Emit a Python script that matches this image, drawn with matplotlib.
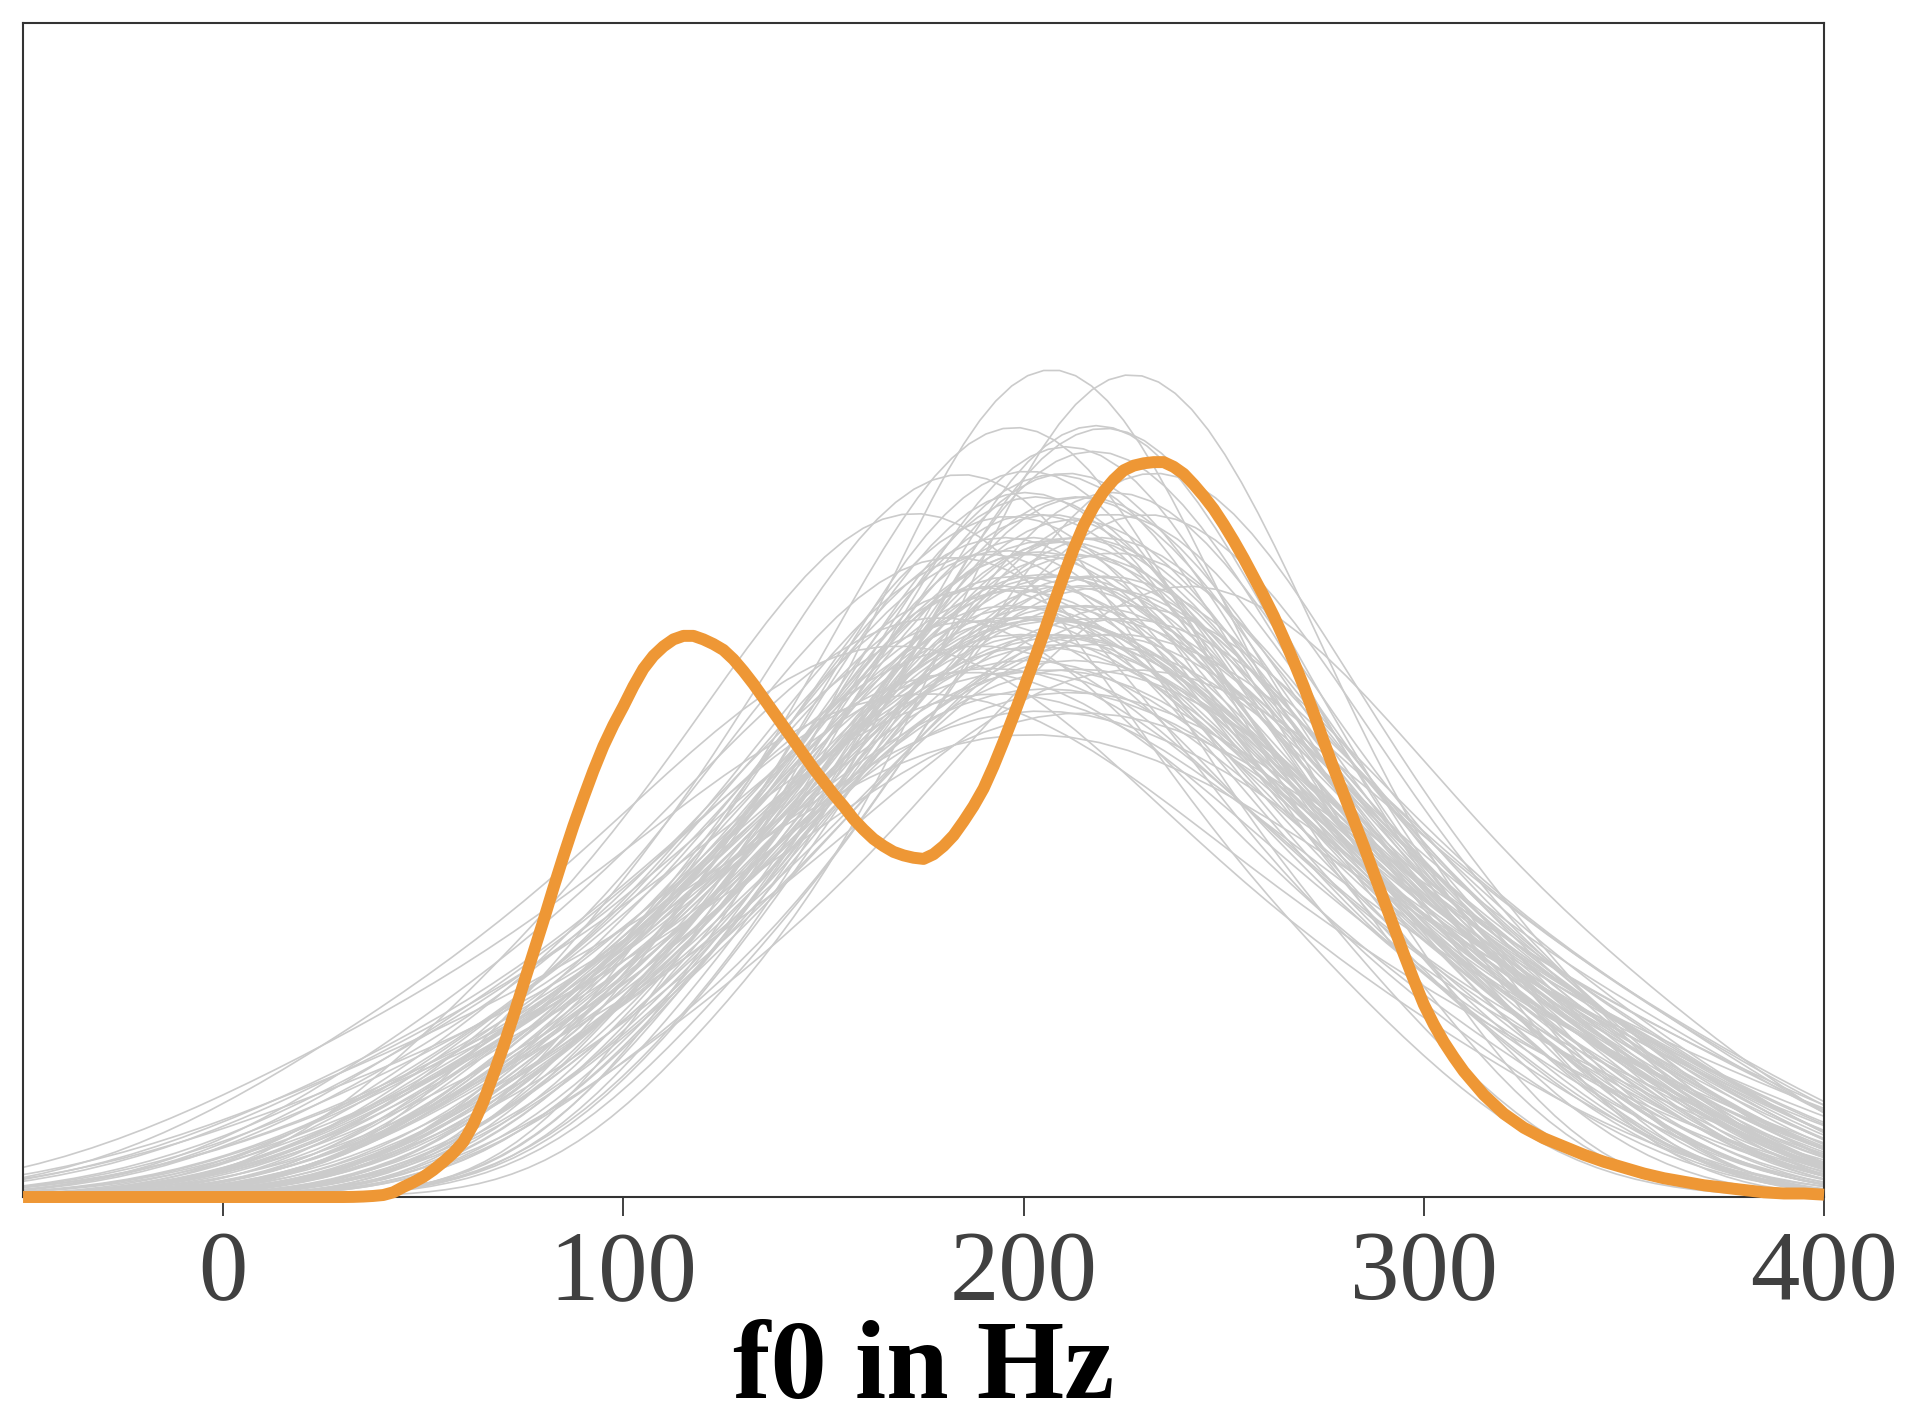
import numpy as np
import matplotlib
matplotlib.use("Agg")
import matplotlib.pyplot as plt
import seaborn as sns

# f0 samples (Hz) of the other speakers, one list per grey curve
gray_speakers = [
    [66, 121, 144, 167, 178, 193, 206, 214, 233, 249, 279, 320],
    [96, 145, 164, 185, 195, 209, 216, 231, 240, 262, 280, 331],
    [48, 103, 129, 155, 171, 183, 199, 214, 228, 254, 279, 341],
    [120, 153, 178, 190, 204, 212, 224, 231, 246, 257, 282, 312],
    [72, 128, 151, 175, 187, 203, 212, 229, 241, 266, 288, 344],
    [60, 111, 131, 153, 164, 178, 190, 198, 216, 230, 259, 305],
    [131, 170, 190, 201, 215, 224, 229, 242, 250, 268, 283, 324],
    [40, 107, 136, 165, 180, 198, 209, 228, 244, 273, 299, 358],
    [78, 118, 147, 161, 180, 188, 202, 210, 228, 242, 271, 310],
    [85, 139, 160, 184, 195, 211, 219, 235, 246, 270, 290, 337],
    [63, 99, 128, 141, 158, 165, 180, 187, 204, 217, 245, 281],
    [71, 118, 152, 169, 190, 200, 216, 226, 247, 263, 297, 343],
    [90, 137, 154, 174, 183, 197, 207, 214, 230, 241, 268, 303],
    [106, 146, 175, 189, 208, 215, 230, 238, 256, 270, 300, 339],
    [52, 108, 130, 156, 167, 184, 192, 209, 221, 246, 268, 324],
    [86, 125, 155, 169, 188, 196, 210, 218, 236, 250, 279, 318],
    [55, 119, 146, 173, 188, 207, 216, 235, 250, 278, 303, 360],
    [69, 111, 143, 158, 177, 186, 201, 209, 228, 243, 274, 315],
    [115, 163, 182, 203, 213, 227, 234, 249, 258, 279, 298, 346],
    [76, 120, 153, 168, 189, 199, 214, 223, 243, 259, 291, 335],
    [50, 111, 137, 163, 176, 195, 204, 222, 236, 262, 287, 349],
    [88, 132, 165, 181, 200, 210, 226, 235, 255, 271, 303, 347],
    [81, 115, 142, 154, 170, 178, 191, 198, 214, 226, 253, 287],
    [98, 144, 161, 181, 191, 204, 211, 225, 233, 253, 271, 316],
    [61, 119, 143, 168, 182, 199, 207, 225, 238, 264, 286, 345],
    [123, 156, 181, 192, 207, 214, 227, 233, 249, 260, 285, 316],
    [66, 110, 143, 159, 179, 188, 204, 213, 233, 249, 281, 325],
    [64, 125, 151, 177, 190, 209, 218, 236, 250, 277, 301, 355],
    [80, 121, 153, 167, 187, 195, 211, 219, 238, 252, 284, 325],
    [74, 113, 143, 157, 176, 183, 198, 206, 224, 238, 268, 307],
    [95, 139, 172, 188, 207, 217, 233, 242, 262, 278, 310, 354],
    [49, 93, 126, 142, 162, 171, 187, 196, 216, 232, 264, 308],
    [91, 139, 158, 179, 189, 203, 210, 225, 234, 255, 274, 322],
    [38, 95, 135, 156, 180, 192, 211, 224, 248, 269, 307, 364],
    [92, 143, 163, 185, 196, 211, 218, 234, 244, 266, 287, 337],
    [93, 129, 158, 171, 188, 195, 210, 217, 234, 247, 275, 312],
    [53, 99, 133, 150, 171, 181, 197, 207, 228, 245, 278, 325],
    [75, 133, 157, 182, 195, 213, 221, 239, 252, 278, 300, 353],
    [101, 132, 158, 169, 185, 191, 204, 210, 226, 237, 262, 293],
    [86, 128, 160, 175, 194, 202, 218, 226, 245, 260, 291, 332],
    [43, 95, 132, 151, 174, 185, 202, 213, 236, 255, 291, 342],
    [129, 163, 190, 202, 219, 226, 239, 246, 262, 274, 301, 335],
    [69, 125, 148, 172, 184, 201, 209, 226, 238, 263, 284, 340],
    [32, 78, 112, 129, 150, 160, 176, 186, 207, 224, 257, 304],
    [89, 143, 165, 188, 199, 215, 223, 239, 250, 274, 294, 347],
    [85, 124, 154, 168, 187, 194, 209, 217, 235, 249, 279, 318],
    [107, 141, 168, 180, 197, 204, 217, 224, 240, 252, 279, 313],
    [37, 98, 124, 150, 163, 182, 191, 209, 223, 250, 274, 335],
    [84, 133, 169, 187, 208, 219, 236, 246, 268, 285, 321, 370],
    [74, 118, 151, 167, 187, 196, 212, 221, 241, 256, 289, 333],
    [81, 129, 148, 169, 178, 193, 200, 215, 224, 246, 263, 312],
    [58, 112, 151, 171, 194, 205, 224, 235, 259, 278, 316, 370],
    [117, 146, 171, 181, 196, 201, 213, 218, 234, 244, 268, 297],
    [70, 114, 147, 163, 183, 192, 208, 217, 237, 253, 285, 329],
    [112, 148, 177, 190, 207, 214, 229, 236, 253, 266, 294, 331],
    [60, 114, 136, 159, 170, 186, 194, 210, 221, 245, 265, 318],
    [63, 112, 148, 166, 187, 198, 215, 225, 247, 264, 300, 349],
    [95, 134, 164, 178, 197, 204, 219, 227, 245, 259, 289, 328],
    [25, 77, 114, 133, 156, 167, 184, 195, 218, 237, 273, 324],
    [117, 159, 191, 206, 225, 233, 249, 257, 276, 291, 322, 363],
    [105, 149, 167, 186, 195, 209, 217, 233, 245, 269, 290, 341],
    [100, 134, 164, 176, 193, 200, 216, 226, 246, 262, 295, 337],
    [116, 158, 175, 193, 201, 215, 221, 237, 247, 271, 290, 338],
    [89, 126, 156, 169, 188, 195, 212, 222, 243, 260, 295, 340],
    [109, 155, 175, 195, 204, 219, 227, 245, 257, 282, 304, 358],
    [91, 130, 162, 176, 195, 203, 220, 231, 253, 271, 308, 355],
    [113, 145, 173, 184, 201, 207, 223, 231, 251, 265, 297, 337],
    [104, 146, 163, 181, 189, 203, 209, 225, 235, 259, 278, 326],
    [101, 140, 172, 186, 205, 213, 230, 241, 263, 281, 318, 365],
    [96, 128, 156, 167, 184, 190, 206, 214, 234, 248, 280, 320],
    [123, 151, 176, 186, 201, 206, 220, 227, 244, 257, 286, 320],
    [114, 151, 181, 195, 213, 220, 237, 247, 268, 285, 320, 365],
    [77, 118, 152, 167, 186, 195, 213, 224, 247, 266, 305, 355],
    [96, 142, 162, 182, 191, 206, 214, 232, 244, 269, 291, 345],
    [115, 147, 175, 186, 203, 209, 225, 233, 253, 267, 299, 339],
    [87, 133, 153, 173, 182, 197, 205, 223, 235, 260, 282, 336],
    [129, 159, 186, 196, 212, 218, 232, 240, 258, 272, 303, 339],
    [70, 125, 150, 174, 187, 204, 214, 235, 250, 281, 309, 373],
    [100, 137, 167, 181, 199, 206, 223, 233, 254, 271, 306, 351],
    [105, 151, 171, 191, 200, 215, 223, 241, 253, 278, 300, 354],
    [103, 135, 163, 174, 191, 197, 213, 221, 241, 255, 287, 327],
    [86, 137, 159, 181, 192, 208, 217, 236, 250, 278, 303, 362],
    [120, 152, 180, 191, 208, 214, 230, 238, 258, 272, 304, 344],
    [85, 122, 152, 166, 184, 191, 208, 218, 239, 256, 291, 336],
    [114, 156, 173, 191, 199, 213, 219, 235, 245, 269, 288, 336],
    [95, 132, 162, 176, 194, 201, 218, 228, 249, 266, 301, 346],
    [107, 137, 164, 174, 190, 196, 210, 218, 236, 250, 281, 317],
    [100, 151, 173, 195, 206, 222, 231, 250, 264, 292, 317, 370],
    [99, 145, 165, 185, 194, 209, 217, 235, 247, 272, 294, 348],
    [87, 126, 158, 172, 191, 199, 216, 227, 249, 267, 304, 351],
    [124, 164, 179, 197, 204, 217, 223, 238, 247, 270, 287, 333],
    [82, 121, 153, 167, 186, 194, 211, 222, 244, 262, 299, 346],
    [89, 130, 164, 179, 198, 207, 225, 236, 259, 278, 317, 367],
    [101, 145, 163, 182, 191, 205, 213, 229, 241, 265, 285, 337],
    [104, 141, 171, 185, 203, 210, 227, 237, 258, 275, 310, 355],
]

# target speaker density (density x 1e-3)
orange_hz = [-50, 0, 30, 32.5, 35, 37.5, 40, 42.5, 45, 47.5, 50, 52.5, 55,
             57.5, 60, 62.5, 65, 67.5, 70, 72.5, 75, 77.5, 80, 82.5, 85, 87.5,
             90, 92.5, 95, 97.5, 100, 102.5, 105, 107.5, 110, 112.5, 115,
             117.5, 120, 122.5, 125, 127.5, 130, 132.5, 135, 137.5, 140,
             142.5, 145, 147.5, 150, 152.5, 155, 157.5, 160, 162.5, 165,
             167.5, 170, 172.5, 175, 177.5, 180, 182.5, 185, 187.5, 190,
             192.5, 195, 197.5, 200, 202.5, 205, 207.5, 210, 212.5, 215,
             217.5, 220, 222.5, 225, 227.5, 230, 232.5, 235, 237.5, 240,
             242.5, 245, 247.5, 250, 252.5, 255, 257.5, 260, 262.5, 265,
             267.5, 270, 272.5, 275, 277.5, 280, 282.5, 285, 287.5, 290,
             292.5, 295, 297.5, 300, 302.5, 305, 307.5, 310, 312.5, 315,
             317.5, 320, 325, 330, 335, 340, 345, 350, 355, 360, 365, 370,
             375, 380, 385, 390, 395, 400]
orange_density = [0, 0, 0, 0.001, 0.004, 0.009, 0.017, 0.04, 0.085, 0.125,
                  0.171, 0.23, 0.299, 0.375, 0.469, 0.62, 0.81, 1.04, 1.28,
                  1.54, 1.81, 2.08, 2.35, 2.63, 2.90, 3.16, 3.40, 3.63, 3.84,
                  4.02, 4.18, 4.35, 4.50, 4.61, 4.69, 4.75, 4.78, 4.78, 4.75,
                  4.71, 4.66, 4.58, 4.48, 4.37, 4.25, 4.13, 4.01, 3.89, 3.77,
                  3.65, 3.54, 3.43, 3.33, 3.22, 3.13, 3.05, 2.99, 2.94, 2.91,
                  2.89, 2.88, 2.92, 2.99, 3.08, 3.20, 3.33, 3.48, 3.67, 3.88,
                  4.10, 4.33, 4.56, 4.80, 5.05, 5.29, 5.52, 5.72, 5.88, 6.01,
                  6.11, 6.19, 6.23, 6.25, 6.26, 6.26, 6.22, 6.16, 6.07, 5.97,
                  5.86, 5.73, 5.59, 5.44, 5.28, 5.12, 4.95, 4.76, 4.56, 4.35,
                  4.12, 3.88, 3.65, 3.43, 3.21, 2.99, 2.76, 2.53, 2.30, 2.07,
                  1.85, 1.64, 1.47, 1.32, 1.19, 1.07, 0.97, 0.87, 0.79, 0.71,
                  0.59, 0.50, 0.43, 0.36, 0.30, 0.25, 0.20, 0.16, 0.13, 0.10,
                  0.08, 0.06, 0.04, 0.03, 0.03, 0.02]

x_ticks = [0, 100, 200, 300, 400]

fig = plt.figure(figsize=(19.05, 14.24), dpi=100)
ax = fig.add_axes([0.0121, 0.1594, 0.9454, 0.8244])

for samples in gray_speakers:
    sns.kdeplot(x=samples, ax=ax, color="#cbcbcb", linewidth=1.2, cut=10)

ax.plot(orange_hz, np.array(orange_density) / 1000, color="#ee9735",
        linewidth=8.6, solid_capstyle="butt", solid_joinstyle="round",
        zorder=3, clip_on=False)

ax.set_xlim(-50, 400)
ax.set_ylim(0, 0.01)
ax.set_yticks([])
ax.set_ylabel("")
ax.set_xticks(x_ticks)
ax.set_xticklabels([str(t) for t in x_ticks], fontsize=71,
                   family="Liberation Serif", color="#404040")
ax.tick_params(axis="x", length=13.5, width=1.4, color="#404040", pad=10.5)
for s in ax.spines.values():
    s.set_color("#333333")
    s.set_linewidth(1.5)

# label sits right at the bottom edge, as in the reference
ax.set_xlabel("f0 in Hz", fontsize=81, fontweight="bold",
              family="Liberation Serif", color="black", labelpad=0)

fig.savefig("out.png", dpi=100)
